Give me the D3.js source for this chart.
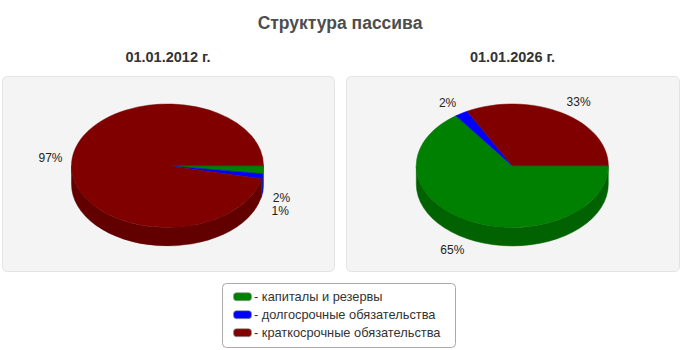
<!DOCTYPE html>
<html><head><meta charset="utf-8">
<script src="https://cdn.jsdelivr.net/npm/d3@7"></script>
<style>body{margin:0;background:#fff}svg{display:block}</style>
</head><body>
<script>
const title = "Структура пассива";
const categories = ["капиталы и резервы", "долгосрочные обязательства", "краткосрочные обязательства"];
const dates = ["01.01.2012 г.", "01.01.2026 г."];
const values2012 = [2.1, 1.3, 96.6];
const values2026 = [65.0, 2.2, 32.8];
const colors = ["#008000", "#0000ff", "#800000"];

const W = 680, H = 350;
const svg = d3.select("body").append("svg").attr("width", W).attr("height", H)
  .style("font-family", "'Liberation Sans', Arial, sans-serif");

svg.append("text").attr("x", 340).attr("y", 29).attr("text-anchor", "middle")
  .attr("font-size", 17.5).attr("font-weight", "bold").attr("fill", "#4d4d4d").text(title);

const panels = [
  {x: 2, w: 332, cx: 167.5, values: values2012, date: dates[0]},
  {x: 346, w: 333, cx: 512.3, values: values2026, date: dates[1]}
];
const rx = 96, ry = 61.7, depth = 18.5, cy = 165.7;
const pie = d3.pie().sort(null).value(d => d).startAngle(0).endAngle(2 * Math.PI);
const fmt = v => Math.round(v) + "%";

panels.forEach(p => {
  const g = svg.append("g");
  g.append("rect").attr("x", p.x + 0.5).attr("y", 76.5).attr("width", p.w).attr("height", 195)
    .attr("rx", 5).attr("fill", "#f4f4f4").attr("stroke", "#e3e3e3");
  g.append("text").attr("x", p.x + p.w / 2).attr("y", 62).attr("text-anchor", "middle")
    .attr("font-size", 14.5).attr("font-weight", "bold").attr("fill", "#333").text(p.date);

  const arcs = pie(p.values);
  const pt = (a, dz = 0) => [p.cx + rx * Math.cos(a), cy + ry * Math.sin(a) + dz];

  // sides (visible lower half, angles 0..PI)
  arcs.forEach((d, i) => {
    const a0 = Math.max(d.startAngle, 0), a1 = Math.min(d.endAngle, Math.PI);
    if (a1 <= a0) return;
    const s = pt(a0), e = pt(a1), sb = pt(a0, depth), eb = pt(a1, depth);
    const path = `M${s}A${rx},${ry} 0 0 1 ${e}L${eb}A${rx},${ry} 0 0 0 ${sb}Z`;
    const c = d3.color(colors[i]).darker(0.75);
    g.append("path").attr("d", path).attr("fill", c).attr("stroke", c).attr("stroke-width", 0.5);
  });
  // tops
  arcs.forEach((d, i) => {
    const s = pt(d.startAngle), e = pt(d.endAngle);
    const large = (d.endAngle - d.startAngle) > Math.PI ? 1 : 0;
    const path = `M${p.cx},${cy}L${s}A${rx},${ry} 0 ${large} 1 ${e}Z`;
    g.append("path").attr("d", path).attr("fill", colors[i])
      .attr("stroke", d3.color(colors[i]).darker(0.3)).attr("stroke-width", 0.5);
  });
  // labels
  const labels = arcs.map((d, i) => {
    const a = (d.startAngle + d.endAngle) / 2;
    const c = Math.cos(a), s = Math.sin(a);
    return {
      x: p.cx + rx * 1.1 * c,
      y: cy + ry * 1.2 * s + (s > 0 ? depth : 0),
      anchor: c >= 0 ? "start" : "end",
      text: fmt(d.value)
    };
  });
  ["start", "end"].forEach(side => {
    const L = labels.filter(l => l.anchor === side).sort((a, b) => a.y - b.y);
    if (L.length > 1 && L[1].y - L[0].y < 13) L.forEach(l => { l.y += 9; });
    for (let k = 1; k < L.length; k++) if (L[k].y - L[k - 1].y < 13) L[k].y = L[k - 1].y + 13;
  });
  labels.forEach(l => {
    g.append("text").attr("x", l.x).attr("y", l.y).attr("dy", "0.35em")
      .attr("text-anchor", l.anchor).attr("font-size", 12).attr("fill", "#222").text(l.text);
  });
});

// legend
const lg = svg.append("g");
lg.append("rect").attr("x", 222.5).attr("y", 283.5).attr("width", 233).attr("height", 64)
  .attr("rx", 4).attr("fill", "#fff").attr("stroke", "#aaa");
categories.forEach((c, i) => {
  const y = 296.7 + i * 18;
  lg.append("rect").attr("x", 233.5).attr("y", y - 4).attr("width", 18).attr("height", 8)
    .attr("rx", 3).attr("fill", colors[i]).attr("stroke", "#999").attr("stroke-width", 0.7);
  lg.append("text").attr("x", 254).attr("y", y).attr("dy", "0.35em").attr("font-size", 12.8)
    .attr("fill", "#333").text("- " + c);
});
</script>
</body></html>
